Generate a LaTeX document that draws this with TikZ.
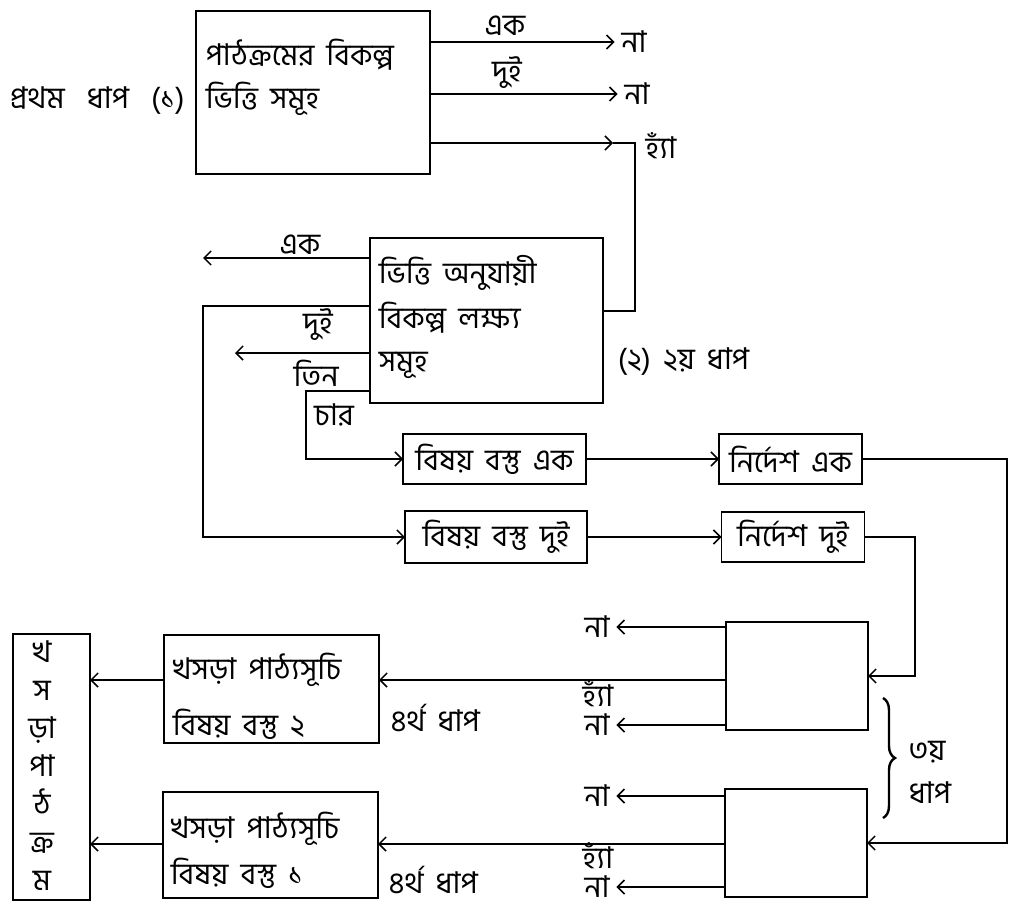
\documentclass[tikz,border=0pt]{standalone}
\usepackage{fontspec}
\newfontfamily\bn[Script=Bengali,WordSpace=1.8]{Hind Siliguri}
\usetikzlibrary{arrows.meta,decorations.pathreplacing}

\begin{document}
\begin{tikzpicture}[
    x=1pt,y=-1pt,line width=1.5pt,
    box/.style={draw,inner sep=0pt,outer sep=0pt,font=\bn\fontsize{30}{34}\selectfont},
    txt/.style={font=\bn\fontsize{30}{34}\selectfont,inner sep=0pt,anchor=base west},
    lbl/.style={font=\bn\fontsize{30}{34}\selectfont,inner sep=0pt,anchor=base},
    ans/.style={font=\bn\fontsize{30}{34}\selectfont,inner sep=0pt,outer sep=7pt},
    arr/.style={-{Straight Barb[length=7pt,width=14pt]}}
    ]
    \useasboundingbox (0,0) rectangle (1013,907);
    % first stage
    \node[txt] (st1) at (9,108) {প্রথম\hspace{10pt} ধাপ\hspace{10pt} (১)};
    \node[box,minimum width=234pt,minimum height=163pt] (b1) at (313,92.5) {};
    \node[txt] (b1a) at (205,66) {পাঠক্রমের বিকল্প};
    \node[txt] (b1b) at (205,108) {ভিত্তি সমূহ};
    \node[ans] (na1) at (634,42) {না};
    \node[ans] (na2) at (637,94) {না};
    \node[lbl] (ek1) at (505,36) {এক};
    \node[lbl] (dui1) at (507,82) {দুই};
    \node[lbl] (ha1) at (661,158) {হ্যাঁ};
    \draw[arr] (b1.east |- na1) -- (na1);
    \draw[arr] (b1.east |- na2) -- (na2);
    \coordinate (hy) at (613,143);
    \coordinate (c1) at (635,143);
    \coordinate (c2) at (635,311);
    \draw[arr] (b1.east |- hy) -- (hy);
    % second stage
    \node[box,minimum width=233pt,minimum height=165pt] (b2) at (486.5,320.5) {};
    \node[txt] (b2a) at (378,283) {ভিত্তি অনুযায়ী};
    \node[txt] (b2b) at (378,328) {বিকল্প লক্ষ্য};
    \node[txt] (b2c) at (378,371) {সমূহ};
    \node[txt] (st2) at (617,369) {(২) ২য় ধাপ};
    \draw (hy) -- (c1) -- (c2) -- (b2.east |- c2);
    \coordinate (e1) at (203,258);
    \coordinate (d1) at (203,306);
    \coordinate (t1) at (235,353);
    \coordinate (c4) at (306,391);
    \node[lbl] (ek2) at (300,254) {এক};
    \node[lbl] (dui2) at (318,333) {দুই};
    \node[lbl] (tin) at (316,386) {তিন};
    \node[lbl] (char) at (334,425) {চার};
    \node[box,minimum width=183pt,minimum height=50pt] (vb1) at (494.5,459) {বিষয় বস্তু এক};
    \node[box,minimum width=182pt,minimum height=52pt] (vb2) at (496,537) {বিষয় বস্তু দুই};
    \node[box,minimum width=143pt,minimum height=50pt] (nd1) at (790.5,459) {নির্দেশ এক};
    \node[box,minimum width=143pt,minimum height=50pt] (nd2) at (793,537) {নির্দেশ দুই};
    \draw[arr] (b2.west |- e1) -- (e1);
    \draw[arr] (b2.west |- d1) -- (d1) |- (vb2.west);
    \draw[arr] (b2.west |- t1) -- (t1);
    \draw[arr] (b2.west |- c4) -- (c4) |- (vb1.west);
    \draw[arr] (vb1.east) -- (nd1.west);
    \draw[arr] (vb2.east) -- (nd2.west);
    % third stage
    \node[box,minimum width=142pt,minimum height=108pt] (bA) at (797,676) {};
    \node[box,minimum width=142pt,minimum height=108pt] (bB) at (796,843) {};
    \coordinate (r1) at (1007,843);
    \coordinate (r2) at (915,676);
    \draw[arr] (nd1.east) -| (r1) -- (bB.east);
    \draw[arr] (nd2.east) -| (r2) -- (bA.east);
    \node[ans] (naA1) at (597,627) {না};
    \node[ans] (naA2) at (597,725) {না};
    \node[ans] (naB1) at (597,796) {না};
    \node[ans] (naB2) at (597,887) {না};
    \node[lbl] (haA) at (598,706) {হ্যাঁ};
    \node[lbl] (haB) at (598,868) {হ্যাঁ};
    \draw[arr] (bA.west |- naA1) -- (naA1);
    \draw[arr] (bA.west |- naA2) -- (naA2);
    \draw[arr] (bB.west |- naB1) -- (naB1);
    \draw[arr] (bB.west |- naB2) -- (naB2);
    \draw[decorate,decoration={brace,amplitude=12pt},line width=2.4pt] (883,698) -- (883,818);
    \node[lbl] (st3a) at (927,760) {৩য়};
    \node[lbl] (st3b) at (930,803) {ধাপ};
    % fourth stage
    \node[box,minimum width=215pt,minimum height=108pt] (kp2) at (271.5,689) {};
    \node[box,minimum width=215pt,minimum height=106pt] (kp1) at (270.5,845) {};
    \node[txt] (kp2a) at (172,679) {খসড়া পাঠ্যসূচি};
    \node[txt] (kp2b) at (172,735) {বিষয় বস্তু ২};
    \node[txt] (kp1a) at (170,838) {খসড়া পাঠ্যসূচি};
    \node[txt] (kp1b) at (170,884) {বিষয় বস্তু ১};
    \node[txt] (st4a) at (390,731) {৪র্থ ধাপ};
    \node[txt] (st4b) at (388,893) {৪র্থ ধাপ};
    \node[box,minimum width=77pt,minimum height=266pt] (vbox) at (51.5,767) {};
    \node[font=\bn\fontsize{30}{38}\selectfont,align=center,inner sep=0pt] (vtxt) at (42,766) {খ\\স\\ড়া\\পা\\ঠ\\ক্র\\ম};
    \coordinate (yA) at (0,680);
    \coordinate (yB) at (0,844);
    \draw[arr] (bA.west |- yA) -- (kp2.east |- yA);
    \draw[arr] (bB.west |- yB) -- (kp1.east |- yB);
    \draw[arr] (kp2.west |- yA) -- (vbox.east |- yA);
    \draw[arr] (kp1.west |- yB) -- (vbox.east |- yB);
\end{tikzpicture}
\end{document}
